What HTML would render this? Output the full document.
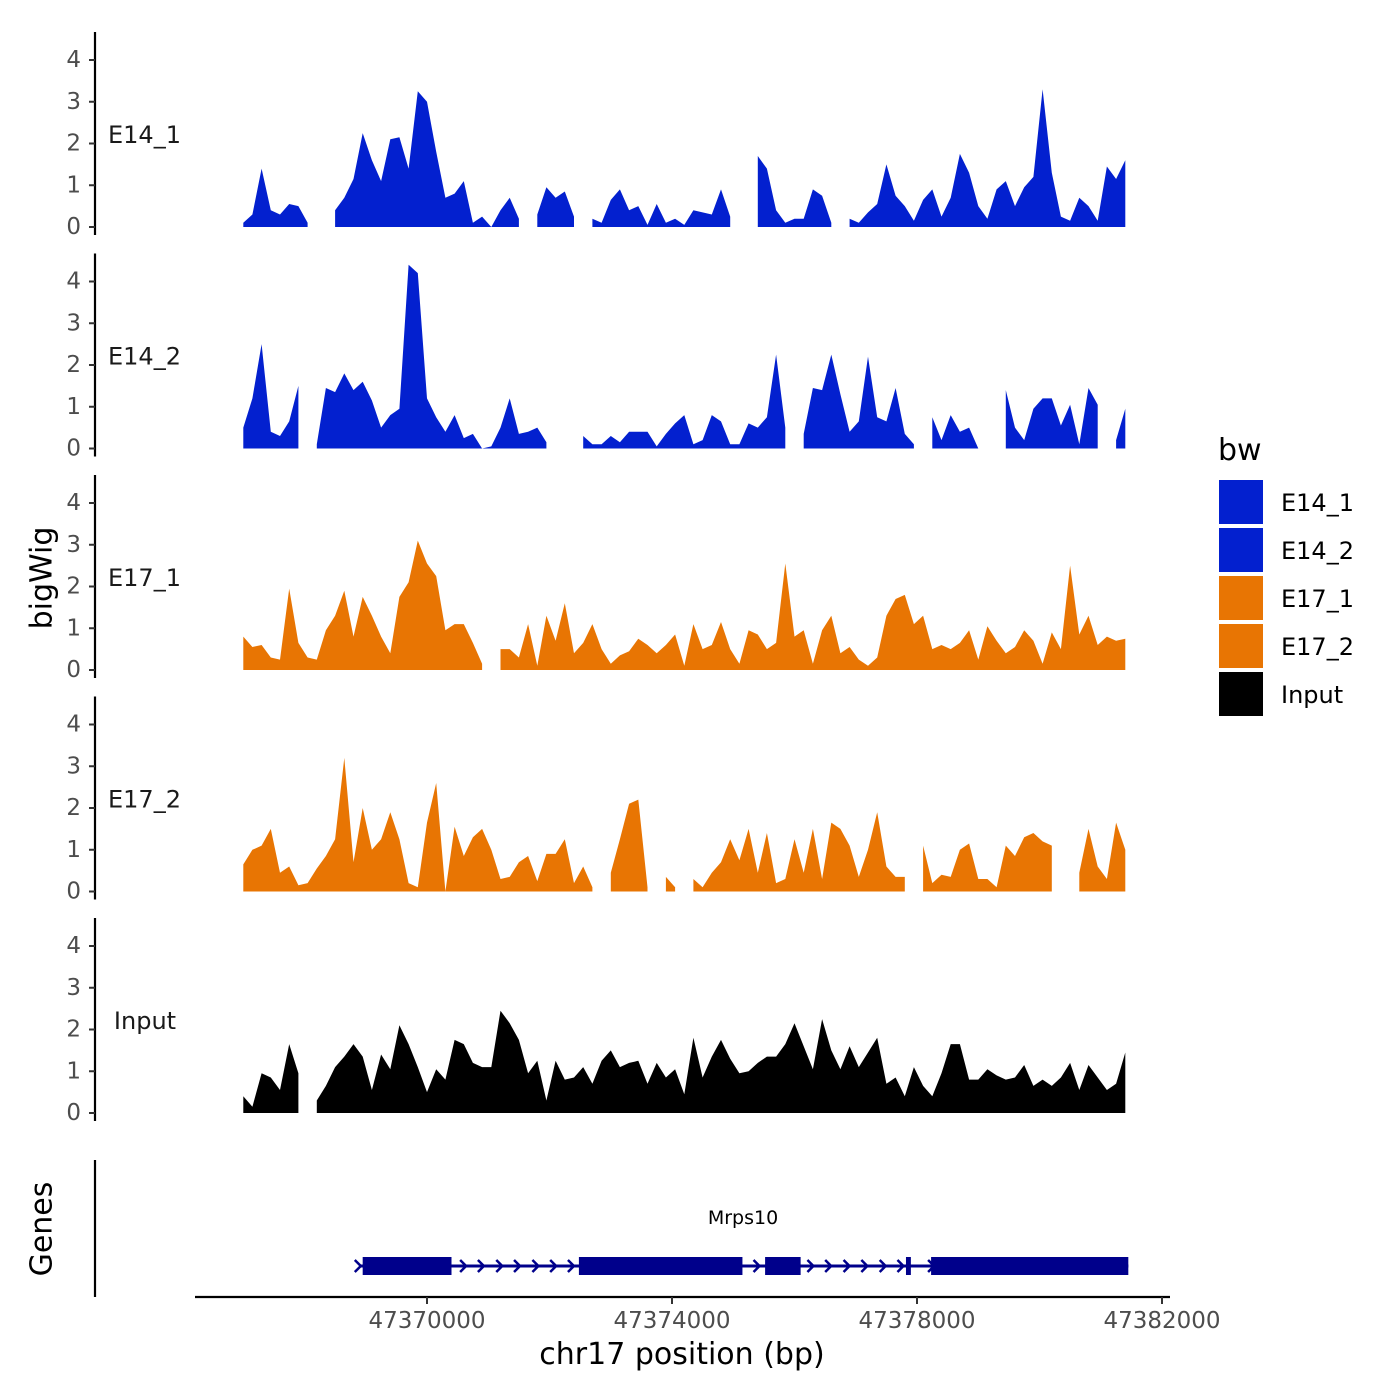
<!DOCTYPE html>
<html><head><meta charset="utf-8"><style>
html,body{margin:0;padding:0;background:#fff;}
svg{display:block;font-family:"DejaVu Sans","Liberation Sans",sans-serif;}
</style></head><body>
<svg id="chart" width="1400" height="1400" viewBox="0 0 1400 1400" xmlns="http://www.w3.org/2000/svg">
<rect width="1400" height="1400" fill="#fff"/>
<g id="tracks"></g>
<g id="genes"></g>
<g id="xaxis"></g>
<text x="42" y="578" transform="rotate(-90 42 578)" text-anchor="middle" dominant-baseline="central" font-size="30" fill="#000">bigWig</text>
<text x="42" y="1229" transform="rotate(-90 42 1229)" text-anchor="middle" dominant-baseline="central" font-size="30" fill="#000">Genes</text>
<text x="682" y="1364" text-anchor="middle" font-size="30" fill="#000">chr17 position (bp)</text>
<g id="legend">
<text x="1218" y="460" font-size="30" fill="#000">bw</text>
</g>
</svg>
<script>
// ---- data ----
const binStart = 47367000;
const binStep = 150;
const trackNames = ["E14_1","E14_2","E17_1","E17_2","Input"];
const trackGroups = ["E14_1","E14_2","E17_1","E17_2","Input"];
const yTicks = [0,1,2,3,4];
const xTicks = [47370000,47374000,47378000,47382000];
const xTickLabels = ["47370000","47374000","47378000","47382000"];
const e14_1 = [0.1,0.3,1.4,0.4,0.3,0.55,0.5,0.1,null,null,0.4,0.7,1.15,2.25,1.6,1.1,2.1,2.15,1.4,3.25,3.0,1.8,0.7,0.8,1.1,0.1,0.25,0,0.4,0.7,0.2,null,0.3,0.95,0.7,0.85,0.25,null,0.2,0.1,0.65,0.9,0.4,0.5,0.05,0.55,0.1,0.2,0.05,0.4,0.35,0.3,0.9,0.25,null,null,1.7,1.4,0.4,0.1,0.2,0.2,0.9,0.75,0.1,null,0.2,0.1,0.35,0.55,1.5,0.75,0.5,0.15,0.65,0.9,0.25,0.7,1.75,1.3,0.5,0.2,0.9,1.1,0.5,0.95,1.2,3.3,1.3,0.25,0.15,0.7,0.5,0.15,1.45,1.15,1.6];
const e14_2 = [0.5,1.2,2.5,0.4,0.3,0.65,1.5,null,0.1,1.45,1.35,1.8,1.4,1.6,1.15,0.5,0.8,0.95,4.4,4.2,1.2,0.75,0.4,0.8,0.25,0.35,0,0.05,0.5,1.2,0.35,0.4,0.5,0.15,null,null,null,0.3,0.1,0.1,0.3,0.15,0.4,0.4,0.4,0.05,0.35,0.6,0.8,0.1,0.2,0.8,0.65,0.1,0.1,0.6,0.5,0.75,2.25,0.5,null,0.35,1.45,1.4,2.25,1.3,0.4,0.65,2.2,0.75,0.65,1.45,0.35,0.1,null,0.75,0.2,0.8,0.4,0.5,0,null,null,1.4,0.5,0.2,0.95,1.2,1.2,0.55,1.05,0.1,1.45,1.05,null,0.2,0.95];
const e17_1 = [0.8,0.55,0.6,0.3,0.25,1.95,0.65,0.3,0.25,0.95,1.3,1.9,0.8,1.75,1.3,0.8,0.4,1.75,2.1,3.1,2.55,2.25,0.95,1.1,1.1,0.65,0.15,null,0.5,0.5,0.3,1.1,0.1,1.3,0.7,1.6,0.4,0.65,1.1,0.5,0.15,0.35,0.45,0.75,0.6,0.4,0.6,0.85,0.1,1.1,0.5,0.6,1.15,0.5,0.15,0.95,0.85,0.5,0.65,2.55,0.8,0.95,0.15,0.95,1.3,0.4,0.55,0.25,0.1,0.3,1.3,1.7,1.8,1.1,1.3,0.5,0.6,0.5,0.65,0.95,0.25,1.05,0.7,0.4,0.55,0.95,0.7,0.15,0.9,0.5,2.5,0.85,1.3,0.6,0.8,0.7,0.75];
const e17_2 = [0.65,1.0,1.1,1.5,0.45,0.6,0.15,0.2,0.55,0.85,1.25,3.2,0.7,2.0,1.0,1.25,1.9,1.25,0.2,0.1,1.65,2.6,0,1.55,0.85,1.3,1.5,1.0,0.3,0.35,0.7,0.85,0.25,0.9,0.9,1.25,0.2,0.6,0.1,null,0.45,1.25,2.1,2.2,0.1,null,0.35,0.1,null,0.3,0.1,0.45,0.7,1.25,0.75,1.5,0.45,1.4,0.2,0.3,1.25,0.45,1.5,0.3,1.65,1.5,1.1,0.35,1.0,1.9,0.6,0.35,0.35,null,1.1,0.2,0.4,0.35,1.0,1.15,0.3,0.3,0.1,1.1,0.85,1.3,1.4,1.2,1.1,null,null,0.45,1.5,0.6,0.3,1.65,1.0];
const input = [0.4,0.15,0.95,0.85,0.55,1.65,0.95,null,0.3,0.65,1.1,1.35,1.65,1.35,0.55,1.4,1.05,2.1,1.65,1.1,0.5,1.05,0.8,1.75,1.65,1.2,1.1,1.1,2.45,2.15,1.75,0.95,1.25,0.3,1.25,0.8,0.85,1.1,0.7,1.25,1.5,1.1,1.2,1.25,0.7,1.2,0.85,1.05,0.45,1.8,0.85,1.35,1.75,1.3,0.95,1.0,1.2,1.35,1.35,1.65,2.15,1.6,1.05,2.25,1.5,1.05,1.6,1.1,1.45,1.8,0.7,0.85,0.4,1.1,0.65,0.4,0.95,1.65,1.65,0.8,0.8,1.05,0.9,0.8,0.85,1.15,0.65,0.8,0.65,0.85,1.2,0.55,1.15,0.85,0.55,0.7,1.45];
const seriesValues = [e14_1,e14_2,e17_1,e17_2,input];
const geneName = "Mrps10";
const geneStart = 47368900;
const geneEnd = 47381450;
const exonStarts = [47368950,47372480,47375520,47377820,47378230];
const exonEnds = [47370400,47375150,47376100,47377900,47381450];
const arrowPositions = [47368870,47370590,47370880,47371180,47371470,47371770,47372060,47372350,47375380,47376260,47376550,47376850,47377140,47377440,47377730,47378230];

// ---- scales ----
const NS="http://www.w3.org/2000/svg";
const colors = {"E14_1":"#0320CF","E14_2":"#0320CF","E17_1":"#E87503","E17_2":"#E87503","Input":"#000000"};
const xScale = v => 427 + (v - 47370000) * (245/4000);
const panelBase = k => 227 + k*221.5;
const yScale = (k,v) => panelBase(k) - v*41.75;
function mk(tag, attrs, parent){const e=document.createElementNS(NS,tag);for(const a in attrs)e.setAttribute(a,attrs[a]);parent.appendChild(e);return e;}

const tracks=document.getElementById('tracks');
seriesValues.forEach((vals,k)=>{
  const g=mk('g',{},tracks);
  
  
  const top=panelBase(k)-195, bot=panelBase(k)+8;
  const ax=mk('line',{x1:95,x2:95,y1:top,y2:bot,stroke:'#000','stroke-width':2.2},g);
  
  
  yTicks.forEach(t=>{
    const y=yScale(k,t);
    const tk=mk('line',{x1:89,x2:95,y1:y,y2:y,stroke:'#333','stroke-width':2},g);
    
    
    const tl=mk('text',{x:81,y:y,'text-anchor':'end','dominant-baseline':'central','font-size':23,fill:'#4d4d4d'},g);
    tl.textContent=t;
    
    
  });
  const lab=mk('text',{x:trackNames[k]==='Input'?145:108,y:panelBase(k)-92,'text-anchor':trackNames[k]==='Input'?'middle':'start','dominant-baseline':'central','font-size':24,fill:'#1a1a1a'},g);
  lab.textContent=trackNames[k];
  
  
  let run=[];
  const flush=()=>{
    if(run.length){
      const b=panelBase(k);
      let pts=[[xScale(run[0][0]),b]];
      run.forEach(p=>pts.push([xScale(p[0]),yScale(k,p[1])]));
      pts.push([xScale(run[run.length-1][0]),b]);
      const poly=mk('polygon',{points:pts.map(p=>p[0].toFixed(1)+','+p[1].toFixed(1)).join(' '),fill:colors[trackGroups[k]]},g);
      
      
    }
    run=[];
  };
  vals.forEach((v,i)=>{ if(v===null){flush();} else run.push([binStart+i*binStep,v]); });
  flush();
});

const gg=document.getElementById('genes');
const gax=mk('line',{x1:95,x2:95,y1:1160,y2:1297,stroke:'#000','stroke-width':2.2},gg);


const gl=mk('line',{x1:xScale(geneStart),x2:xScale(geneEnd),y1:1266,y2:1266,stroke:'#00008B','stroke-width':3},gg);


arrowPositions.forEach(p=>{
  const x=xScale(p);
  const a=mk('polyline',{points:`${x-3},1260 ${x+3},1266 ${x-3},1272`,fill:'none',stroke:'#00008B','stroke-width':2.5},gg);
  
  
});
exonStarts.forEach((s,i)=>{
  const x0=xScale(s),x1=xScale(exonEnds[i]);
  const r=mk('rect',{x:x0,y:1257,width:x1-x0,height:18,fill:'#00008B'},gg);
  
  
});
const gn=mk('text',{x:743,y:1224,'text-anchor':'middle','font-size':19,fill:'#000'},gg);
gn.textContent=geneName;



const xa=document.getElementById('xaxis');
const xl=mk('line',{x1:195,x2:1170,y1:1297,y2:1297,stroke:'#000','stroke-width':2.2},xa);


xTicks.forEach((t,i)=>{
  const x=xScale(t);
  const tk=mk('line',{x1:x,x2:x,y1:1297,y2:1304,stroke:'#333','stroke-width':2},xa);
  
  
  const tl=mk('text',{x:x,y:1321,'text-anchor':'middle','dominant-baseline':'central','font-size':23,fill:'#4d4d4d'},xa);
  tl.textContent=xTickLabels[i];
  
  
});

const lg=document.getElementById('legend');
trackNames.forEach((n,i)=>{
  const y=480+i*48;
  const r=mk('rect',{x:1219,y:y,width:44,height:44,fill:colors[n]},lg);
  
  
  const t=mk('text',{x:1281,y:y+23,'dominant-baseline':'central','font-size':24,fill:'#000'},lg);
  t.textContent=n;
  
  
});
</script>
</body></html>
